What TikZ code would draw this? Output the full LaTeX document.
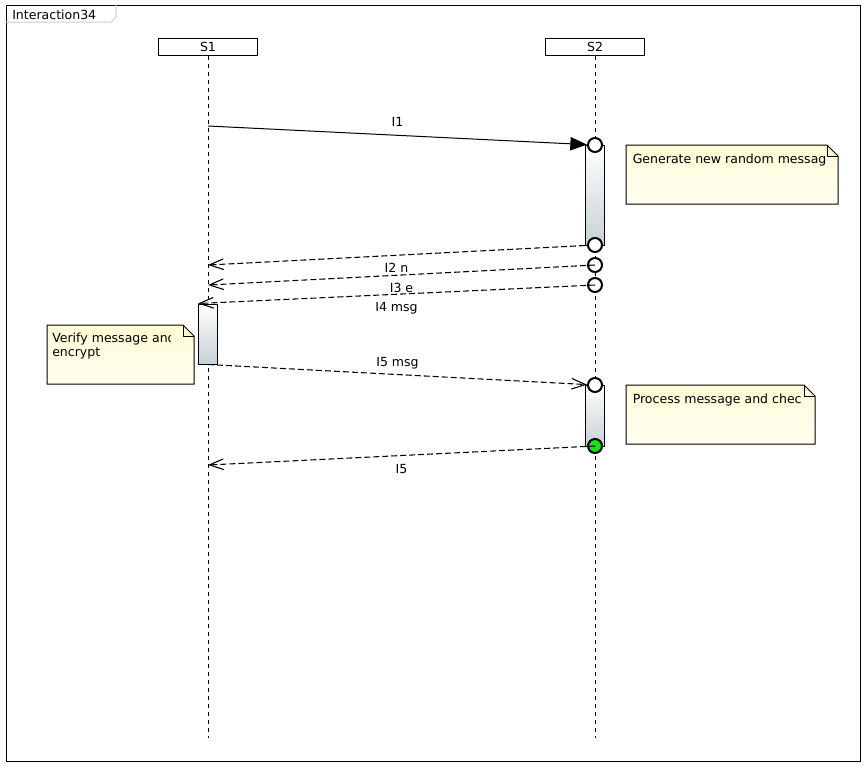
\documentclass[tikz,border=0pt]{standalone}
\usepackage{fontspec}
\setmainfont{DejaVu Sans}
\usetikzlibrary{arrows.meta}

\definecolor{actbot}{RGB}{198,209,213}
\definecolor{notetop}{RGB}{255,252,212}
\definecolor{notebot}{RGB}{255,255,242}
\definecolor{tabgray}{RGB}{205,205,205}
\definecolor{okgreen}{RGB}{25,225,25}

\tikzset{
  head/.style={draw,fill=white,line width=0.75pt,minimum width=74.25pt,minimum height=12.75pt,inner sep=0pt},
  life/.style={line width=0.75pt,dash pattern=on 3pt off 3pt},
  act/.style={draw,line width=0.75pt,top color=white,bottom color=actbot,minimum width=14.25pt,inner sep=0pt},
  port/.style={circle,draw,fill=white,line width=1.5pt,minimum size=10.5pt,inner sep=0pt},
  call/.style={line width=0.75pt,-{Triangle[length=12.5pt,width=10pt]}},
  reply/.style={line width=0.8pt,dash pattern=on 4.5pt off 2.25pt,-{Straight Barb[length=10.5pt,width=8pt]}},
  lbl/.style={inner sep=1pt,text height=6.9pt,text depth=0pt},
}

% note with folded corner: x1 y1 x2 y2
\newcommand{\umlnote}[4]{%
  \draw[line width=0.75pt,top color=notetop,bottom color=notebot]
    (#1,#2) -- (#3-11,#2) -- (#3,#2+11) -- (#3,#4) -- (#1,#4) -- cycle;
  \draw[line width=0.75pt] (#3-11,#2) -- (#3-11,#2+11) -- (#3,#2+11);}

\begin{document}
\begin{tikzpicture}[x=0.75pt,y=-0.75pt,font=\fontsize{9.4}{11}\selectfont]
\useasboundingbox (0,0) rectangle (866,765);

% frame
\draw[line width=0.75pt] (6,5) rectangle (860,761);
\draw[tabgray,line width=0.75pt] (6,22) -- (111,22) -- (116,17) -- (116,5);
\node[anchor=base west,inner sep=0pt] (title) at (12,19) {Interaction34};

% lifelines
\node[head] (s1) at (208,46.5) {S1};
\node[head] (s2) at (595,46.5) {S2};
\coordinate (s1end) at (208,738);
\coordinate (s2end) at (595,738);
\draw[life] (s1) -- (s1end);
\draw[life] (s2) -- (s2end);

% activations
\node[act,minimum height=75pt] (act1) at (595,195) {};
\node[act,minimum height=45pt] (act2) at (208,334) {};
\node[act,minimum height=45.75pt] (act3) at (595,415.5) {};

\node[port] (c1) at (595,145) {};
\node[port] (c2) at (595,245) {};
\node[port] (c3) at (595,265) {};
\node[port] (c4) at (595,285) {};
\node[port] (c5) at (595,385) {};
\node[port,fill=okgreen] (c6) at (595,446) {};

% messages
\coordinate (m1) at (208,126);
\coordinate (r1) at (208,265);
\coordinate (r2) at (208,285);
\coordinate (r5) at (208,465);
\draw[call] (m1) -- (c1) node[lbl,midway,above=5pt] {I1};
\draw[reply] (act1.south west) -- (r1) node[lbl,midway,below=5pt] {I2 n};
\draw[reply] (c3.center) -- (r2) node[lbl,midway,below=5pt] {I3 e};
\draw[reply] (c4.center) -- (act2.north west) node[lbl,midway,below=5pt] {I4 msg};
\draw[reply] (act2.south) -- (c5) node[lbl,midway,above=5pt] {I5 msg};
\draw[reply] (c6.center) -- (r5) node[lbl,midway,below=5pt] {I5};

% notes
\umlnote{626}{145}{838}{204}
\umlnote{47}{325}{194}{384}
\umlnote{626}{385}{815}{444}
\begin{scope}
\clip (626,145) rectangle (827,204);
\node[anchor=base west,inner sep=0pt] (note1) at (632.5,163) {Generate new random messag};
\end{scope}
\begin{scope}
\clip (47,325) rectangle (170,384);
\node[anchor=base west,inner sep=0pt] (note2) at (52,342.7) {Verify message and};
\node[anchor=base west,inner sep=0pt] (note2b) at (52,356.7) {encrypt};
\end{scope}
\begin{scope}
\clip (626,385) rectangle (800,444);
\node[anchor=base west,inner sep=0pt] (note3) at (632.5,403.3) {Process message and check};
\end{scope}
\end{tikzpicture}
\end{document}
